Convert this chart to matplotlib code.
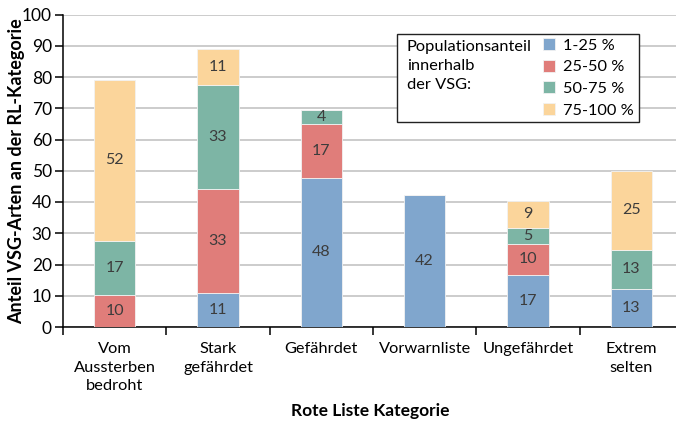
import numpy as np
import matplotlib.pyplot as plt
from matplotlib.patches import Rectangle

# Rote Liste categories (x axis)
categories = ["Vom\nAussterben\nbedroht", "Stark\ngefährdet", "Gefährdet",
              "Vorwarnliste", "Ungefährdet", "Extrem\nselten"]

# Population share classes (legend)
classes = ["1-25 %", "25-50 %", "50-75 %", "75-100 %"]
colors = ["#80a6cd", "#e07d7a", "#7db5a5", "#fbd59b"]

# Segment heights (% of species)
share_1_25 = [0.0, 10.9, 47.8, 42.3, 16.8, 12.3]
share_25_50 = [10.1, 33.4, 17.3, 0.0, 9.7, 0.0]
share_50_75 = [17.3, 33.3, 4.4, 0.0, 5.2, 12.5]
share_75_100 = [51.8, 11.3, 0.0, 0.0, 8.6, 25.0]

# Printed segment labels
labels_1_25 = [None, 11, 48, 42, 17, 13]
labels_25_50 = [10, 33, 17, None, 10, None]
labels_50_75 = [17, 33, 4, None, 5, 13]
labels_75_100 = [52, 11, None, None, 9, 25]

series = [share_1_25, share_25_50, share_50_75, share_75_100]
series_labels = [labels_1_25, labels_25_50, labels_50_75, labels_75_100]

plt.rcParams["font.family"] = ["Lato", "DejaVu Sans"]
plt.rcParams["font.size"] = 11

W, H = 676, 422
fig = plt.figure(figsize=(W / 100, H / 100), dpi=100)
ax = fig.add_axes([63 / W, (H - 327) / H, 620 / W, 312.5 / H])

x = np.arange(len(categories))
bottom = np.zeros(len(categories))
bars = []
for vals, labs, col, name in zip(series, series_labels, colors, classes):
    vals = np.array(vals)
    b = ax.bar(x, vals, width=0.4, bottom=bottom, color=col,
               edgecolor="#f2f2f2", linewidth=0.6, label=name, zorder=3)
    bars.append(b)
    for xi, v, bo, lab in zip(x, vals, bottom, labs):
        if lab is not None:
            ax.text(xi, bo + v / 2, str(lab), ha="center", va="center",
                    color="#3c3c3c", fontsize=11.5, zorder=4)
    bottom += vals

# Axes styling
ax.set_xlim(-0.5, len(categories) - 0.5)
ax.set_ylim(0, 100)
ax.set_yticks(np.arange(0, 101, 10))
ax.yaxis.grid(True, color="#c4c4c4", linewidth=1.2, zorder=0)
ax.set_axisbelow(True)
for side in ["top", "right"]:
    ax.spines[side].set_visible(False)
ax.spines["left"].set_linewidth(1.1)
ax.spines["bottom"].set_linewidth(1.1)
ax.tick_params(axis="y", length=6, width=1.1, labelsize=12.5, pad=2)

ax.set_xticks(x)
ax.set_xticklabels(categories, fontsize=11.8, linespacing=1.4)
ax.set_xticks(np.arange(-0.5, len(categories)), minor=True)
ax.tick_params(axis="x", which="major", length=0, pad=11)
ax.tick_params(axis="x", which="minor", length=6, width=1.1)

fig.text(17 / W, 1 - 171 / H, "Anteil VSG-Arten an der RL-Kategorie",
         rotation=90, ha="center", va="center", fontsize=13, fontweight="bold")
fig.text(370 / W, 1 - 411 / H, "Rote Liste Kategorie",
         ha="center", va="center", fontsize=12.5, fontweight="bold")

# Legend box with title on the left
fig.patches.append(Rectangle((397 / W, 1 - 122 / H), 242 / W, 88 / H,
                             transform=fig.transFigure, facecolor="white",
                             edgecolor="#222222", linewidth=1.0, zorder=5))
fig.text(407 / W, 1 - 40 / H, "Populationsanteil\ninnerhalb\nder VSG:",
         ha="left", va="top", fontsize=11.8, linespacing=1.45, zorder=6)
leg = fig.legend(handles=bars, loc="upper left",
                 bbox_to_anchor=(543 / W, 1 - 38 / H), frameon=False,
                 fontsize=11.8, handlelength=0.75, handleheight=0.75,
                 handletextpad=0.5, labelspacing=0.42, borderpad=0,
                 borderaxespad=0)
leg.set_zorder(6)

fig.savefig("out.png", dpi=100)
